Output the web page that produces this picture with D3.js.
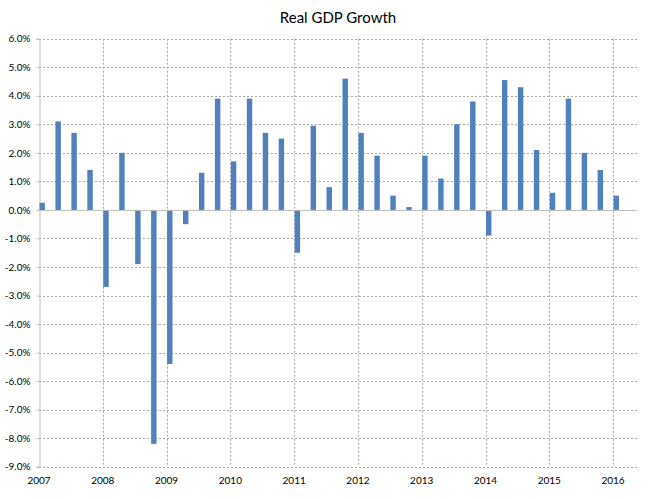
<!DOCTYPE html>
<html>
<head>
<meta charset="utf-8">
<script src="https://cdn.jsdelivr.net/npm/d3@7"></script>
<style>
html,body{margin:0;padding:0;background:#fff;}
svg{display:block;font-family:Lato,"Open Sans",sans-serif;}
</style>
</head>
<body>
<svg id="chart" width="649" height="499"></svg>
<script>
const quarters = ["2007Q1","2007Q2","2007Q3","2007Q4","2008Q1","2008Q2","2008Q3","2008Q4",
"2009Q1","2009Q2","2009Q3","2009Q4","2010Q1","2010Q2","2010Q3","2010Q4",
"2011Q1","2011Q2","2011Q3","2011Q4","2012Q1","2012Q2","2012Q3","2012Q4",
"2013Q1","2013Q2","2013Q3","2013Q4","2014Q1","2014Q2","2014Q3","2014Q4",
"2015Q1","2015Q2","2015Q3","2015Q4","2016Q1"];
const growth = [0.25,3.1,2.7,1.4,-2.7,2.0,-1.9,-8.2,
-5.4,-0.5,1.3,3.9,1.7,3.9,2.7,2.5,
-1.5,2.95,0.8,4.6,2.7,1.9,0.5,0.1,
1.9,1.1,3.0,3.8,-0.9,4.55,4.3,2.1,
0.6,3.9,2.0,1.4,0.5];
const yearLabels = ["2007","2008","2009","2010","2011","2012","2013","2014","2015","2016"];
const yTicks = [6,5,4,3,2,1,0,-1,-2,-3,-4,-5,-6,-7,-8,-9];
const chartTitle = "Real GDP Growth";

(function(){
const svg = d3.select("#chart");
const pLeft = 39, pRight = 637, pTop = 38.7, pBottom = 466.7;

const x = d3.scaleLinear().domain([0, 37.5]).range([pLeft, pRight]);
const y = d3.scaleLinear().domain([6, -9]).range([pTop, pBottom]);

svg.append("text").attr("x", 338).attr("y", 23).attr("text-anchor", "middle")
  .attr("font-size", 15).attr("fill", "#000").text(chartTitle);

// horizontal gridlines
svg.append("g").selectAll("line").data(yTicks.filter(d => d !== 0)).join("line")
  .attr("x1", pLeft).attr("x2", pRight)
  .attr("y1", d => Math.round(y(d)) + 0.5).attr("y2", d => Math.round(y(d)) + 0.5)
  .attr("stroke", "#a6a6a6").attr("stroke-width", 1).attr("stroke-dasharray", "2,2");

// vertical gridlines at years
svg.append("g").selectAll("line").data(yearLabels.slice(1)).join("line")
  .attr("x1", (d, i) => Math.round(x((i + 1) * 4)) + 0.5)
  .attr("x2", (d, i) => Math.round(x((i + 1) * 4)) + 0.5)
  .attr("y1", pTop).attr("y2", pBottom)
  .attr("stroke", "#a6a6a6").attr("stroke-width", 1).attr("stroke-dasharray", "2,2");

// y axis
const yAxis = d3.axisLeft(y).tickValues(yTicks).tickSize(3).tickPadding(6)
  .tickFormat(d => d.toFixed(1) + "%");
const gy = svg.append("g").attr("transform", `translate(${pLeft + 0.5},0)`).call(yAxis);
gy.select(".domain").attr("stroke", "#bfbfbf");
gy.selectAll(".tick line").attr("stroke", "#bfbfbf");
gy.selectAll(".tick text").attr("font-size", 10).attr("fill", "#000")
  .attr("font-family", "Lato, 'Open Sans', sans-serif");

// bars
const bw = (x(1) - x(0)) * 0.34;
svg.append("g").selectAll("rect").data(growth).join("rect")
  .attr("x", (d, i) => x(i) + 0.5)
  .attr("width", bw)
  .attr("y", d => y(Math.max(0, d)))
  .attr("height", d => Math.abs(y(d) - y(0)))
  .attr("fill", "#4f81bd");

// zero line
svg.append("line").attr("x1", pLeft).attr("x2", pRight)
  .attr("y1", Math.round(y(0)) + 0.5).attr("y2", Math.round(y(0)) + 0.5)
  .attr("stroke", "#bfbfbf").attr("stroke-width", 1);

// x labels
svg.append("g").selectAll("text").data(yearLabels).join("text")
  .attr("x", (d, i) => x(i * 4))
  .attr("y", 484)
  .attr("text-anchor", "middle").attr("font-size", 10).attr("fill", "#000")
  .text(d => d);
})();
</script>
</body>
</html>
